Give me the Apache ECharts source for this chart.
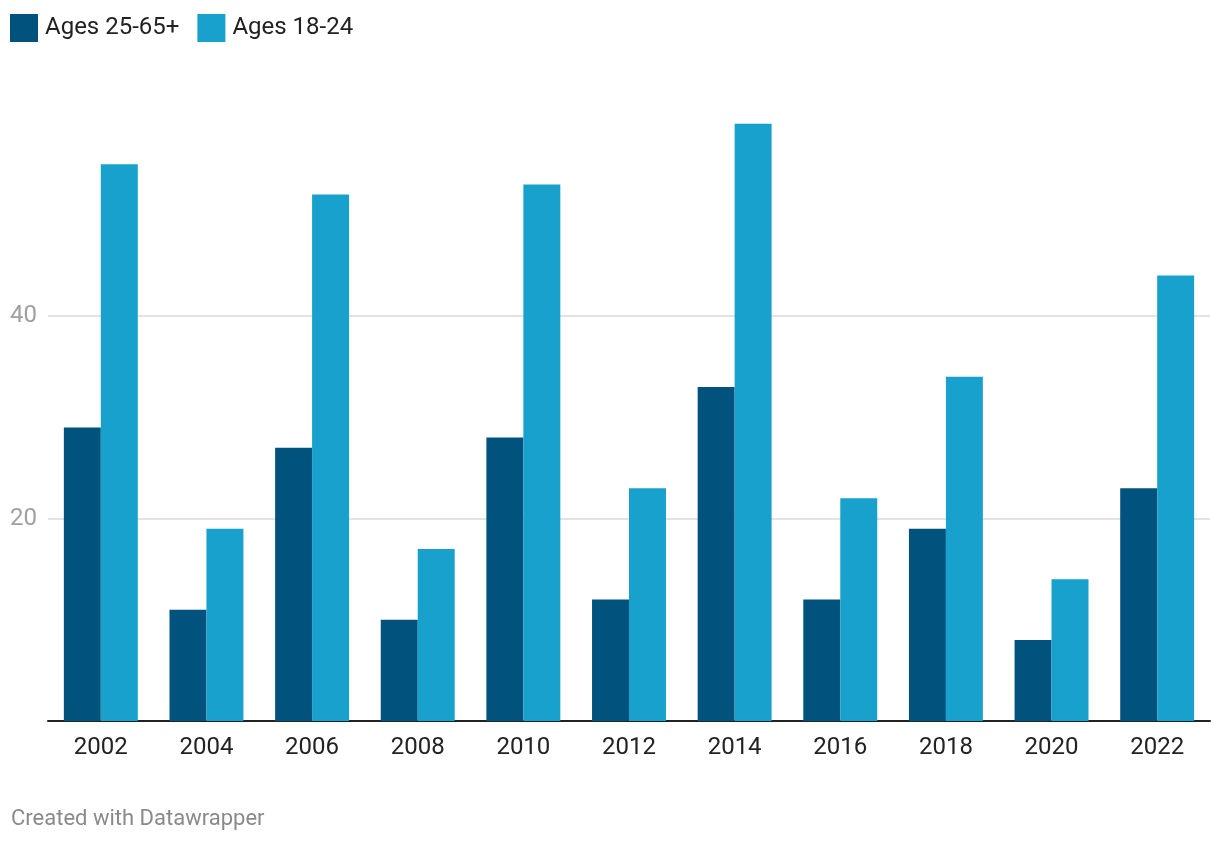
<!DOCTYPE html>
<html><head><meta charset="utf-8">
<script src="https://cdn.jsdelivr.net/npm/echarts@6/dist/echarts.min.js"></script>
<style>html,body{margin:0;padding:0;background:#fff;}#c{width:1220px;height:844px;}</style>
</head><body><div id="c"></div>
<script>
const categories = ['2002','2004','2006','2008','2010','2012','2014','2016','2018','2020','2022'];
const olderValues = [29, 11, 27, 10, 28, 12, 33, 12, 19, 8, 23];
const youngValues = [55, 19, 52, 17, 53, 23, 59, 22, 34, 14, 44];
const seriesNames = ['Ages 25-65+', 'Ages 18-24'];
const yTicks = [20, 40];

const chart = echarts.init(document.getElementById('c'), null, {renderer: 'canvas'});
chart.setOption({
  animation: false,
  textStyle: {fontFamily: 'Roboto'},
  color: ['#01537e', '#18a1cd'],
  legend: {
    left: 10, top: 14, padding: 0, itemWidth: 28, itemHeight: 28, itemGap: 18,
    icon: 'rect',
    textStyle: {fontSize: 24, color: '#222', padding: [0, 0, 0, 2]},
    data: seriesNames
  },
  graphic: [{
    type: 'text', left: 11, top: 808,
    style: {text: 'Created with Datawrapper', fontSize: 22, fill: '#8a8a8a', fontFamily: 'Roboto'}
  }],
  grid: {left: 48, right: 10, top: 113.5, bottom: 123, containLabel: false},
  xAxis: {
    type: 'category', data: categories,
    axisLine: {lineStyle: {color: '#222', width: 2}},
    axisTick: {show: false},
    axisLabel: {fontSize: 24, color: '#222', margin: 15}
  },
  yAxis: {
    type: 'value', min: 0, max: 60, interval: 20,
    axisLine: {show: false}, axisTick: {show: false},
    axisLabel: {
      fontSize: 24, color: '#a0a0a0', align: 'left', margin: 38,
      formatter: v => yTicks.includes(v) ? String(v) : ''
    },
    splitLine: {lineStyle: {color: ['transparent', '#e3e3e3', '#e3e3e3', 'transparent'], width: 2}}
  },
  series: [
    {name: seriesNames[0], type: 'bar', data: olderValues, barGap: '0%', barCategoryGap: '30%'},
    {name: seriesNames[1], type: 'bar', data: youngValues, barGap: '0%', barCategoryGap: '30%'}
  ]
});
</script></body></html>
